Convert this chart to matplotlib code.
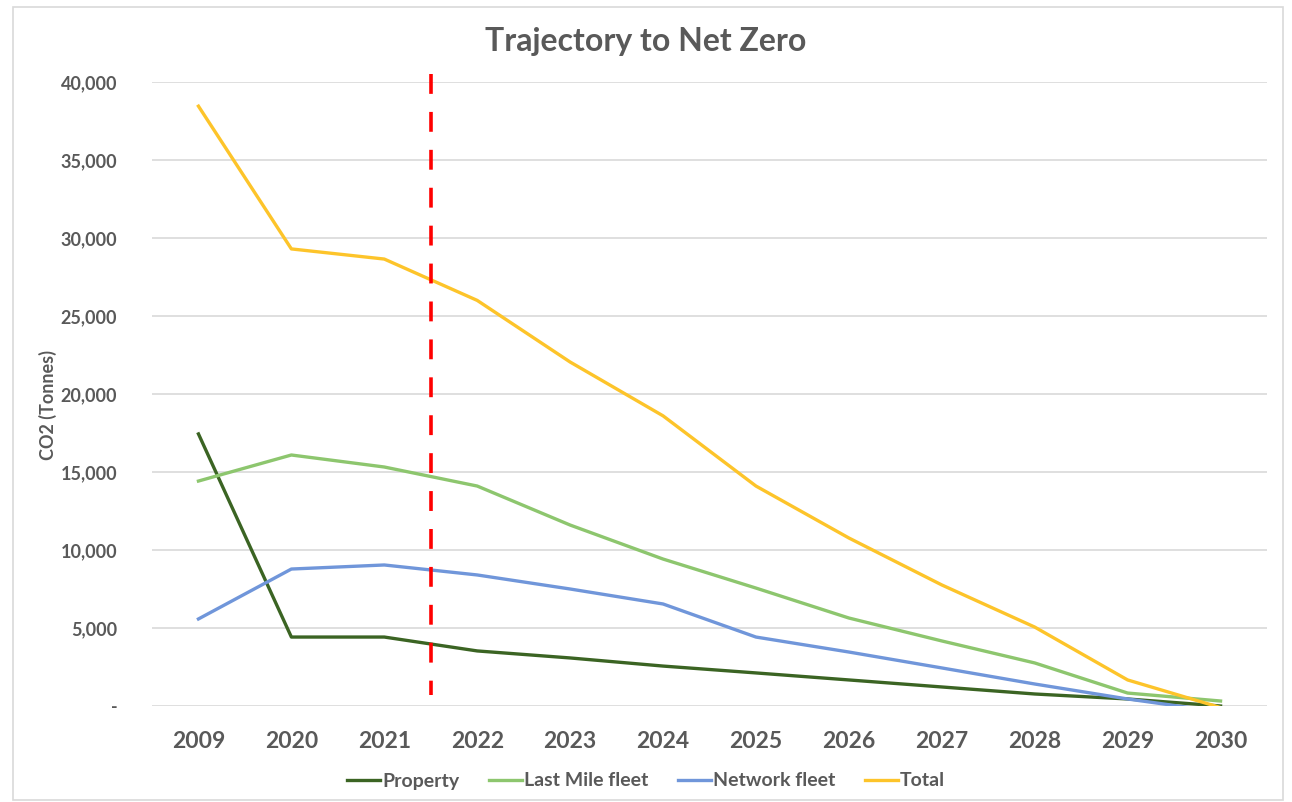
import numpy as np
from matplotlib import pyplot as plt
from matplotlib.patches import Rectangle
import matplotlib.ticker

years = ['2009', '2020', '2021', '2022', '2023', '2024', '2025', '2026', '2027', '2028', '2029', '2030']

property_co2 = [17440, 4420, 4420, 3530, 3080, 2560, 2120, 1670, 1220, 770, 450, 0]
last_mile = [14420, 16090, 15320, 14100, 11600, 9420, 7560, 5640, 4170, 2760, 830, 320]
network = [5580, 8780, 9040, 8400, 7500, 6540, 4420, 3460, 2440, 1410, 450, -380]
total = [38450, 29300, 28650, 26000, 22050, 18600, 14100, 10770, 7760, 5060, 1670, -100]

# red dashed marker between 2021 and 2022
marker_x = 2.5
marker_y = [40500, 700]

plt.rcParams['font.family'] = ['Lato', 'DejaVu Sans']
grey = '#595959'

fig = plt.figure(figsize=(12.92, 8.02), dpi=100)
fig.patches.append(Rectangle((13 / 1292, 2 / 802), 1270 / 1292, 793 / 802,
                             transform=fig.transFigure, fill=False,
                             edgecolor='#D9D9D9', linewidth=1.2))
ax = fig.add_axes([152 / 1292, 1 - 706 / 802, 1115 / 1292, 624 / 802])

x = np.arange(len(years))
ax.plot(x, property_co2, color='#3B6423', lw=2.4, label='Property')
ax.plot(x, last_mile, color='#8DC66E', lw=2.4, label='Last Mile fleet')
ax.plot(x, network, color='#7096DA', lw=2.4, label='Network fleet')
ax.plot(x, total, color='#FDC42A', lw=2.4, label='Total')

ax.plot([marker_x, marker_x], marker_y, color='#FF0000', lw=2.6,
        dashes=(5.5, 5), clip_on=False, zorder=5)

ax.set_xlim(-0.5, len(years) - 0.5)
ax.set_ylim(0, 40000)
ax.set_yticks(np.arange(0, 40001, 5000))
ax.yaxis.set_major_formatter(matplotlib.ticker.FuncFormatter(
    lambda v, p: '-' if v == 0 else '{:,.0f}'.format(v)))
ax.set_xticks(x)
ax.set_xticklabels(years)

ax.grid(axis='y', color='#D9D9D9', lw=1.2)
ax.set_axisbelow(True)
for s in ax.spines.values():
    s.set_visible(False)
ax.tick_params(axis='both', length=0, colors=grey)
ax.tick_params(axis='x', pad=18, labelsize=16.5)
ax.tick_params(axis='y', pad=25, labelsize=13)
for t in ax.get_xticklabels() + ax.get_yticklabels():
    t.set_fontweight('bold')

fig.text(0.5, 1 - 42 / 802, 'Trajectory to Net Zero', ha='center', va='center',
         fontsize=23, fontweight='bold', color=grey)
fig.text(48 / 1292, 1 - 405 / 802, 'CO2 (Tonnes)', rotation=90, ha='center',
         va='center', fontsize=13, fontweight='bold', color=grey)

leg = fig.legend(loc='center', bbox_to_anchor=(0.5, 1 - 781 / 802), ncol=4,
                 frameon=False, fontsize=14, handlelength=1.7, handletextpad=0.12,
                 columnspacing=1.5)
for t in leg.get_texts():
    t.set_color(grey)
    t.set_fontweight('bold')

plt.savefig('out.png', dpi=100)
